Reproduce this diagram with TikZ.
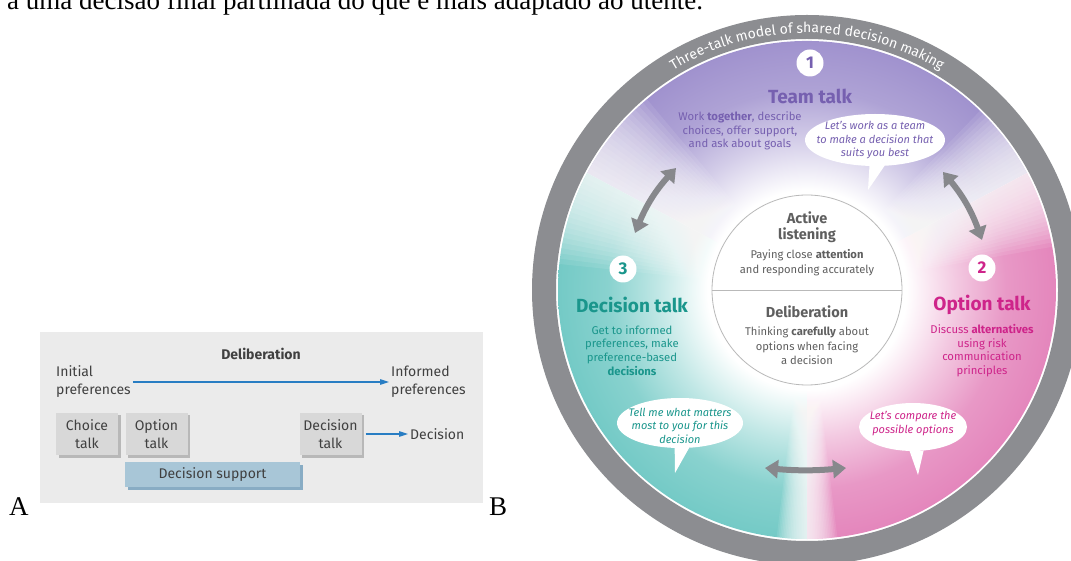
\documentclass[tikz,border=0pt]{standalone}
\usepackage{fontspec}
\setmainfont{Liberation Serif}
\setsansfont{Fira Sans}
\usepackage{xcolor}
\usepackage{tikz}
\usetikzlibrary{
  arrows.meta,
  decorations.text,
  positioning,
  shadows,
  shapes.geometric
}

\definecolor{panelgray}{RGB}{235,235,235}
\definecolor{boxgray}{RGB}{216,216,216}
\definecolor{boxshade}{RGB}{184,184,184}
\definecolor{supportblue}{RGB}{168,198,215}
\definecolor{supportshade}{RGB}{136,172,196}
\definecolor{flowblue}{RGB}{40,125,195}
\definecolor{inktext}{RGB}{64,64,64}
\definecolor{ringgray}{RGB}{140,141,145}
\definecolor{teamcol}{RGB}{160,146,206}
\definecolor{teamtext}{RGB}{118,96,176}
\definecolor{decicol}{RGB}{116,202,198}
\definecolor{decitext}{RGB}{26,150,140}
\definecolor{optcol}{RGB}{228,134,188}
\definecolor{opttext}{RGB}{206,36,138}
\definecolor{arrowgray}{RGB}{135,136,140}
\definecolor{listengray}{RGB}{95,95,95}

\colorlet{talkcol}{teamcol}
\pgfdeclareradialshading[talkcol]{talkglow}{\pgfpointorigin}{%
  color(0bp)=(white); color(10bp)=(white); color(15bp)=(talkcol!45);
  color(20bp)=(talkcol!85); color(25bp)=(talkcol); color(50bp)=(talkcol)}

\begin{document}
\begin{tikzpicture}[x=1pt, y=1pt,
    atext/.style={text=inktext, font=\sffamily\fontsize{14}{18}\selectfont, inner sep=2pt},
    talkbox/.style={atext, align=center, fill=boxgray, minimum width=62pt, minimum height=42pt,
      general shadow={fill=boxshade, shadow xshift=2.5pt, shadow yshift=-2.5pt}},
    supportbox/.style={atext, fill=supportblue, minimum width=175pt, minimum height=25pt,
      general shadow={fill=supportshade, shadow xshift=2.5pt, shadow yshift=-2.5pt}},
    flow/.style={draw=flowblue, line width=1.1pt, -{Triangle[length=9pt, width=5.5pt]}},
    serif/.style={inner sep=0pt, anchor=base west, font=\rmfamily\fontsize{27}{27}\selectfont},
    numdisc/.style={circle, fill=white, minimum size=27pt, inner sep=0pt,
      font=\sffamily\bfseries\fontsize{17}{17}\selectfont},
    talkhead/.style={font=\sffamily\bfseries\fontsize{19}{19}\selectfont},
    talkbody/.style={align=center, font=\sffamily\fontsize{11.3}{13.7}\selectfont},
    corehead/.style={align=center, text=listengray, font=\sffamily\bfseries\fontsize{14.5}{16}\selectfont},
    corebody/.style={align=center, text=listengray, font=\sffamily\fontsize{11.2}{14.5}\selectfont},
    bubble/.style={ellipse, fill=white, inner sep=0pt},
    saytext/.style={align=center, font=\sffamily\itshape\fontsize{11}{13.5}\selectfont},
    twoway/.style={draw=arrowgray, line width=6pt,
      {Triangle[width=18pt, length=13pt]}-{Triangle[width=18pt, length=13pt]}}]
\useasboundingbox (0,0) rectangle (1071,560);

\node[serif] (intro) at (7,550) {a uma decisão final partilhada do que é mais adaptado ao utente.};
\node[serif] (labA) at (9,45) {A};
\node[serif] (labB) at (489,45) {B};

% panel A
\fill[panelgray] (40,57) rectangle (483,228);
\node[atext, font=\sffamily\bfseries\fontsize{14}{18}\selectfont] (delib) at (261,206) {Deliberation};
\node[atext, anchor=west, align=left] (initial) at (54,178) {Initial\\preferences};
\node[atext, anchor=west, align=left] (informed) at (389,178) {Informed\\preferences};
\draw[flow] (initial) -- (informed);
\node[talkbox] (choice) at (87,126) {Choice\\talk};
\node[talkbox] (option) at (156.5,126) {Option\\talk};
\node[talkbox] (dtalk) at (330.5,126) {Decision\\talk};
\node[atext, anchor=west] (decision) at (408,126) {Decision};
\draw[flow, shorten <=4pt] (dtalk) -- (decision);
\node[supportbox] (support) at (212.5,85.5) {Decision support};

% panel B
\coordinate (C) at (807,270);
\draw[ringgray, line width=24pt] (C) circle (263);
\foreach \col/\a/\b in {teamcol/28/152, decicol/152/270, optcol/270/388}{
  \begin{scope}
    \colorlet{talkcol}{\col}
    \clip (C) -- ++(\a:249) arc (\a:\b:249) -- cycle;
    \shade[shading=talkglow] (C) ++(-249,-249) rectangle ++(498,498);
  \end{scope}
}
% soft white seams between the three talks
\foreach \t/\w in {28/18, 152/22, 270/7}{
  \foreach \k in {1,...,18}
    \fill[white, opacity=0.09] (C) -- ++({\t-\w*\k/18}:249) arc ({\t-\w*\k/18}:{\t+\w*\k/18}:249) -- cycle;
}
\path[decorate, decoration={text along path, text align=center, text color=white,
    text={|\sffamily\fontsize{14}{14}\selectfont|Three-talk model of shared decision making}}]
  (C) ++(150:257) arc (150:30:257);

\node[circle, draw=gray!55, line width=0.8pt, fill=white, minimum size=190pt] (core) at (C) {};
\draw[gray!55, line width=0.8pt] (core.west) -- (core.east);
\node[corehead] (listen) at (807,333) {Active\\listening};
\node[corebody] (listenbody) at (807,297.5) {Paying close \textbf{attention}\\and responding accurately};
\node[corehead] (delibB) at (807,248) {Deliberation};
\node[corebody] (delibbody) at (807,214) {Thinking \textbf{carefully} about\\options when facing\\a decision};

\node[numdisc, text=teamtext] (one) at (810,497) {1};
\node[talkhead, text=teamtext] (team) at (810,464) {Team talk};
\node[talkbody, text=teamtext] (teambody) at (740,429) {Work \textbf{together}, describe\\choices, offer support,\\and ask about goals};

\node[numdisc, text=decitext] (three) at (623,291) {3};
\node[talkhead, text=decitext] (decide) at (632,255) {Decision talk};
\node[talkbody, text=decitext] (decidebody) at (632,209.5) {Get to informed\\preferences, make\\preference-based\\\textbf{decisions}};

\node[numdisc, text=opttext] (two) at (982,292) {2};
\node[talkhead, text=opttext] (opt) at (982,255) {Option talk};
\node[talkbody, text=opttext] (optbody) at (982,209.5) {Discuss \textbf{alternatives}\\using risk\\communication\\principles};

% speech bubbles
\node[bubble, minimum width=140pt, minimum height=52pt] (bub1) at (875,420) {};
\coordinate (tip1) at (868,370);
\fill[white] (bub1.258) -- (tip1) -- (bub1.290) -- cycle;
\node[saytext, text=teamtext] (say1) at (875,419.5) {Let’s work as a team\\to make a decision that\\suits you best};

\node[bubble, minimum width=126pt, minimum height=50pt] (bub3) at (680,137) {};
\coordinate (tip3) at (675,87);
\fill[white] (bub3.258) -- (tip3) -- (bub3.290) -- cycle;
\node[saytext, text=decitext] (say3) at (680,134.5) {Tell me what matters\\most to you for this\\decision};

\node[bubble, minimum width=108pt, minimum height=48pt] (bub2) at (913,133) {};
\coordinate (tip2) at (918,85);
\fill[white] (bub2.262) -- (tip2) -- (bub2.294) -- cycle;
\node[saytext, text=opttext] (say2) at (913,136.5) {Let’s compare the\\possible options};

% arrows between the talks
\coordinate (tl1) at (635,327);
\coordinate (tl2) at (676,392);
\coordinate (tr1) at (943,388);
\coordinate (tr2) at (982,320);
\coordinate (bt1) at (765,92);
\coordinate (bt2) at (846,92);
\draw[twoway] (tl1) to[bend left=10] (tl2);
\draw[twoway] (tr1) to[bend left=10] (tr2);
\draw[twoway] (bt1) to[bend right=5] (bt2);
\end{tikzpicture}
\end{document}
